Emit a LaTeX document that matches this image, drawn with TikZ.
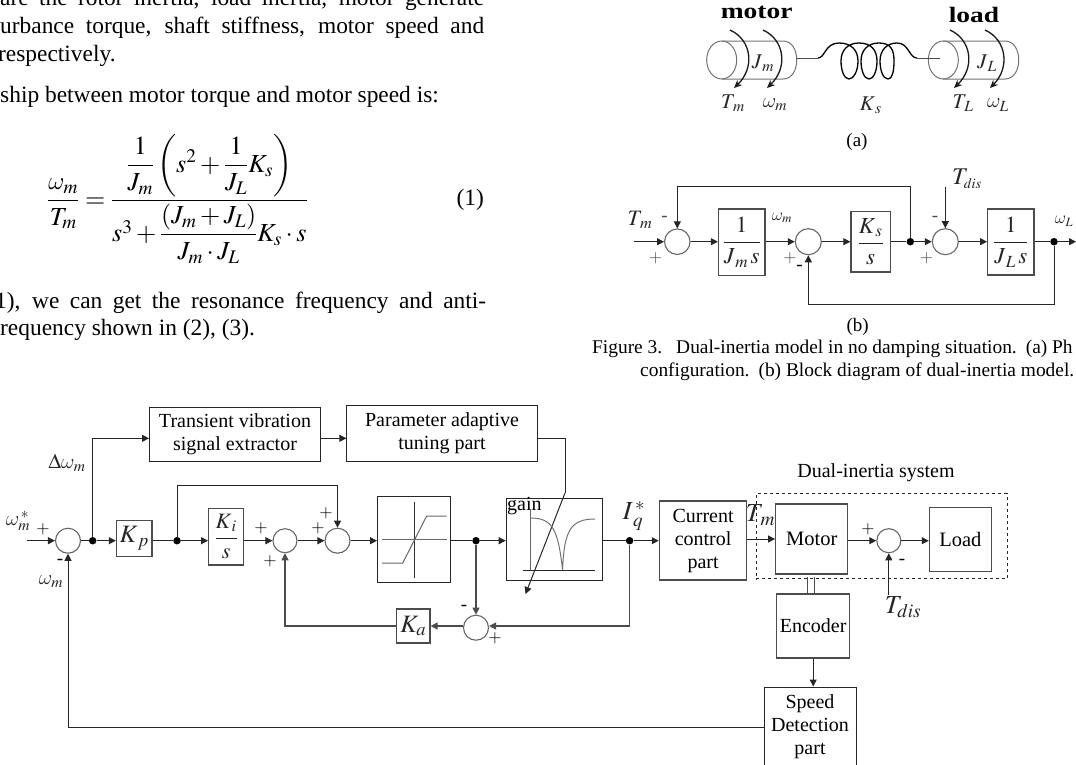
\documentclass[tikz,border=0pt]{standalone}
\usepackage{mathptmx}
\usepackage{amsmath}
\usepackage{graphicx}
\usepackage[no-math]{fontspec}
\setmainfont{Liberation Serif}
\usetikzlibrary{arrows.meta,calc}
\DeclareSymbolFont{lmlet}{OML}{lmm}{m}{it}
\DeclareMathSymbol{\ww}{\mathord}{lmlet}{"21}
\newcommand{\fsz}[1]{\fontsize{#1}{#1}\selectfont}
\tikzset{
  ln/.style={draw=black!85,line width=1pt},
  gln/.style={draw=black!70,line width=1.1pt},
  arr/.style={ln,-{Triangle[length=7pt,width=7pt]}},
  garr/.style={gln,-{Triangle[length=7pt,width=7pt]}},
  bx/.style={draw=black!85,line width=1pt,inner sep=0pt,align=center,font=\fsz{20}},
  gbx/.style={draw=black!70,line width=1.2pt,inner sep=0pt,align=center,font=\fsz{23},text=black!85},
  tbx/.style={gbx,font=\fsz{20},text=black},
  sumn/.style={circle,draw=black!60,line width=1.1pt,inner sep=0pt,minimum size=25pt},
  dotn/.style={circle,fill=black,inner sep=0pt,minimum size=7.5pt},
  lab/.style={inner sep=0pt,font=\fsz{21},text=black!85},
  sml/.style={inner sep=0pt,font=\fsz{17},text=black!70},
  txt/.style={inner sep=0pt,anchor=base west,font=\fsz{23.4}},
  captxt/.style={inner sep=0pt,anchor=base west,font=\fsz{19.4}},
  cyl/.style={draw=black!55,line width=1pt},
  coil/.style={draw=black,line width=1.3pt},
  curv/.style={draw=black!90,line width=1.3pt,-{Stealth[length=8pt,width=7pt]}},
}
\begin{document}
\begin{tikzpicture}[x=1pt,y=-1pt]
\useasboundingbox (0,0) rectangle (1076,764);
\clip (0,0) rectangle (1076,764);
% ---------- left column text
\node[txt] (t0) at (0,5) {\makebox[484pt][s]{are the rotor inertia, load inertia, motor generate}};
\node[txt] (t1) at (0,33) {\makebox[484pt][s]{urbance torque, shaft stiffness, motor speed and}};
\node[txt] (t2) at (-2,61) {respectively.};
\node[txt] (t3) at (0,102) {ship between motor torque and motor speed is:};
\node[inner sep=0pt,font=\fsz{26}] (eq) at (177.5,199) {$\dfrac{\ww_m}{T_m}=\dfrac{\dfrac{1}{J_m}\left(s^2+\dfrac{1}{J_L}K_s\right)}{s^3+\dfrac{\left(J_m+J_L\right)}{J_m\cdot J_L}K_s\cdot s}$};
\node[txt,anchor=east] (eqn) at (484,200) {(1)};
\node[txt] (t4) at (-5,308) {\makebox[491pt][s]{1), we can get the resonance frequency and anti-}};
\node[txt] (t5) at (0,335) {requency shown in (2), (3).};
% ---------- figure (a)
\draw[cyl] (722,41) -- (783,41) .. controls (792,41) and (796.7,50) .. (796.7,60) .. controls (796.7,70) and (792,79) .. (783,79) -- (722,79);
\draw[cyl] (721.7,60) ellipse [x radius=15,y radius=19];
\draw[cyl] (943,41) -- (1005,41) .. controls (1014,41) and (1018.7,50) .. (1018.7,60) .. controls (1018.7,70) and (1014,79) .. (1005,79) -- (943,79);
\draw[cyl] (943.3,60) ellipse [x radius=15,y radius=19];
\draw[line width=1pt,black!70] (796,58) -- (818,58);
\draw[line width=1pt,black!70] (917,58) -- (940,58);
\draw[coil] (818,58) .. controls (825,58) and (825,43) .. (839,43)
  .. controls (851,43) and (858,50) .. (858,61) .. controls (858,72) and (853,79) .. (849,79)
  .. controls (844,79) and (841,70) .. (841,61) .. controls (841,50) and (848,43) .. (859,43)
  .. controls (871,43) and (877,50) .. (877,61) .. controls (877,72) and (873,79) .. (869,79)
  .. controls (864,79) and (861,70) .. (861,61) .. controls (861,50) and (868,43) .. (879,43)
  .. controls (891,43) and (894,50) .. (894,61) .. controls (894,72) and (892,79) .. (888,79)
  .. controls (883,79) and (880,70) .. (880,61) .. controls (880,50) and (887,43) .. (897,43)
  .. controls (909,43) and (909,58) .. (917,58);
\draw[curv] (730,30) .. controls (752,40) and (755,68) .. (734,88);
\draw[curv] (763,30) .. controls (785,40) and (788,68) .. (767,88);
\draw[curv] (950,30) .. controls (972,40) and (975,68) .. (954,88);
\draw[curv] (985,30) .. controls (1007,40) and (1010,68) .. (990,88);
\node[inner sep=0pt,font=\bfseries\fsz{22}] (mo) at (756.7,12) {\scalebox{1.25}[1]{motor}};
\node[inner sep=0pt,font=\bfseries\fsz{22}] (lo) at (974,15) {\scalebox{1.25}[1]{load}};
\node[lab] (jm) at (763,63) {$J_{\,m}$};
\node[lab] (jl) at (987,63) {$J_{\,L}$};
\node[lab] (tm) at (733,103) {$T_{\,m}$};
\node[lab] (wm) at (775,105) {$\ww_{m}$};
\node[lab] (ks) at (870.7,105) {$K_{\,s}$};
\node[lab] (tl) at (963,103) {$T_{\,L}$};
\node[lab] (wl) at (998,105) {$\ww_{L}$};
\node[inner sep=0pt,font=\fsz{19}] (capa) at (857,142) {(a)};
% ---------- figure (b)
\node[sumn,minimum size=25.5pt] (bs1) at (677.3,241.7) {};
\node[gbx,minimum width=46.5pt,minimum height=66.3pt] (bj1) at (741.7,242.2) {$\dfrac{1}{J_{\,m}\,s}$};
\node[sumn,minimum size=26pt] (bs2) at (808.3,241.7) {};
\node[gbx,minimum width=39.5pt,minimum height=60.3pt] (bk) at (870.7,241.8) {$\dfrac{K_{\,s}}{s}$};
\node[dotn] (bd1) at (910.3,241.7) {};
\node[sumn,minimum size=26pt] (bs3) at (945.3,241.7) {};
\node[gbx,minimum width=46.3pt,minimum height=66pt] (bj2) at (1010.8,242) {$\dfrac{1}{J_{\,L}\,s}$};
\node[dotn] (bd2) at (1054,241.7) {};
\coordinate (bin) at (634,241.7);
\coordinate (bout) at (1076,241.7);
\coordinate (bdis) at (945.3,186.7);
\coordinate (bc1) at (677.3,186.7);
\coordinate (bc2) at (1054,304.3);
\draw[arr] (bin) -- (bs1);
\draw[arr] (bs1) -- (bj1.west |- bs1);
\draw[arr] (bj1.east |- bs2) -- (bs2);
\draw[arr] (bs2) -- (bk.west |- bs2);
\draw[ln] (bk.east |- bd1) -- (bd1);
\draw[arr] (bd1) -- (bs3);
\draw[arr] (bs3) -- (bj2.west |- bs3);
\draw[ln] (bj2.east |- bd2) -- (bd2);
\draw[arr] (bd2) -- (bout);
\draw[arr] (bd1) |- (bc1) -- (bs1);
\draw[arr] (bdis) -- (bs3);
\draw[arr] (bd2) -- (bc2) -| (bs2);
\node[lab,font=\fsz{22}] (blt) at (640,220) {$T_{\,m}$};
\node[lab,font=\fsz{17}] (blw) at (782,218) {$\ww_{m}$};
\node[lab,font=\fsz{24}] (bld) at (967,179) {$T_{\scriptscriptstyle dis}$};
\node[lab,font=\fsz{17}] (blwl) at (1064,221) {$\ww_{L}$};
\node[sml] (p1) at (655.5,258) {$+$};
\node[sml,font=\fsz{19}] (m1) at (664.5,219) {-};
\node[sml] (p2) at (790,258) {$+$};
\node[sml,text=black,font=\fsz{19}] (m2) at (799.5,268) {-};
\node[sml] (p3) at (926.5,258) {$+$};
\node[sml,font=\fsz{19}] (m3) at (935,219) {-};
\node[inner sep=0pt,font=\fsz{19}] (capb) at (857.7,327) {(b)};
\node[captxt] (c1) at (592,353) {Figure 3.\hspace{14pt}Dual-inertia model in no damping situation.\hspace{9pt}(a) Ph};
\node[captxt] (c2) at (640,376) {configuration.\hspace{9pt}(b) Block diagram of dual-inertia model.};
% ---------- main block diagram
\node[bx,minimum width=171pt,minimum height=54.2pt] (trans) at (235,434.6) {Transient vibration\\[3pt]signal extractor};
\node[bx,minimum width=190.2pt,minimum height=56.2pt] (param) at (442,433.6) {Parameter adaptive\\[3pt]tuning part};
\node[sumn] (s1) at (68,540.7) {};
\node[dotn] (d1) at (92.7,540.7) {};
\node[gbx,minimum width=35.5pt,minimum height=35.6pt,font=\fsz{25}] (kp) at (134.2,538.5) {$K_{\,p}$};
\node[dotn] (d2) at (177,540.7) {};
\node[gbx,font=\fsz{22},minimum width=35pt,minimum height=56.7pt] (ki) at (226.2,536.6) {$\dfrac{K_{\,i}}{s}$};
\node[sumn,minimum size=24pt] (s2) at (285,540.7) {};
\node[sumn] (s3) at (337.5,540.7) {};
\node[bx,minimum width=73pt,minimum height=86pt] (sat) at (414,539.7) {};
\node[dotn] (d3) at (476,540.7) {};
\node[sumn] (s4) at (476,627.7) {};
\node[gbx,minimum width=33.3pt,minimum height=34pt,font=\fsz{25}] (ka) at (413.3,626) {$K_{a}$};
\node[bx,minimum width=95.8pt,minimum height=82.7pt] (gainb) at (554.1,539.6) {};
\node[dotn] (d4) at (629.6,540.7) {};
\node[tbx,minimum width=87.5pt,minimum height=79pt] (curb) at (703.1,540.5) {Current\\[3pt]control\\[3pt]part};
\node[tbx,font=\fsz{20.5},minimum width=72pt,minimum height=70pt] (motor) at (811.7,539) {Motor};
\node[sumn,minimum size=24pt] (s5) at (888.8,540.7) {};
\node[tbx,font=\fsz{20.5},minimum width=61.8pt,minimum height=63.6pt] (load) at (960.3,539.5) {Load};
\node[tbx,minimum width=73pt,minimum height=64pt] (enc) at (813.2,626) {Encoder};
\node[bx,minimum width=92pt,minimum height=79pt] (speed) at (810,726.5) {Speed\\[3pt]Detection\\[3pt]part};
\node[draw=black!85,dashed,line width=1pt,inner sep=0pt,minimum width=250.6pt,minimum height=85.5pt] (dash) at (881.7,536.2) {};
% free ends
\coordinate (in) at (27,540.7);
\coordinate (c1a) at (92.7,438.3);
\coordinate (c2a) at (177,485.3);
\coordinate (c2b) at (337.5,485.3);
\coordinate (cka) at (285,626);
\coordinate (cq) at (629.6,626);
\coordinate (pb) at (565,438.3);
\coordinate (pc) at (565,493);
\coordinate (pd) at (525.5,594);
\coordinate (tdis) at (888.8,595);
\coordinate (sl) at (0,727.8);
\coordinate (m1a) at (807.7,577);
\coordinate (m1b) at (807.7,594);
\coordinate (m2a) at (814.5,577);
\coordinate (m2b) at (814.5,594);
% connectors
\draw[arr] (in) -- (s1);
\draw[ln] (s1) -- (d1);
\draw[arr] (d1) -- (kp.west |- d1);
\draw[ln] (kp.east |- d2) -- (d2);
\draw[arr] (d2) -- (ki.west |- d2);
\draw[arr] (ki.east |- s2) -- (s2);
\draw[arr] (s2) -- (s3);
\draw[arr] (s3) -- (sat.west |- s3);
\draw[ln] (sat.east |- d3) -- (d3);
\draw[arr] (d3) -- (gainb.west |- d3);
\draw[ln] (gainb.east |- d4) -- (d4);
\draw[arr] (d4) -- (curb.west |- d4);
\draw[arr] (curb.east |- motor) -- (motor.west);
\draw[arr] (motor.east |- s5) -- (s5);
\draw[arr] (s5) -- (load.west |- s5);
\draw[arr] (d1) -- (c1a) -- (trans.west |- c1a);
\draw[arr] (trans.east |- c1a) -- (param.west |- c1a);
\draw[ln] (param.east |- pb) -- (pb) -- (pc);
\draw[arr] (pc) -- (pd);
\draw[arr] (d2) -- (c2a) -- (c2b) -- (s3);
\draw[garr] (d3) -- (s4);
\draw[garr] (s4.west |- ka) -- (ka.east);
\draw[garr] (ka.west) -- (cka) -- (s2);
\draw[garr] (d4) -- (cq) -- (s4.east |- cq);
\draw[arr] (tdis) -- (s5);
\draw[gln] (m1a) -- (m1b);
\draw[gln] (m2a) -- (m2b);
\draw[arr] (enc.south) -- (enc.south |- speed.north);
\draw[arr] (speed.west |- sl) -| (s1);
% saturation symbol
\draw[ln,black!80] (414.3,502) -- (414.3,578);
\draw[ln,black!60] (382,539.7) -- (446.7,539.7);
\draw[ln,black!60] (382,563) -- (402.7,563) -- (426.7,516) -- (446.7,516);
% gain symbol
\draw[ln,black!60] (530.5,510) -- (530.5,570.3);
\draw[ln,black!85] (522.5,570.3) -- (595,570.3);
\draw[ln,black!55] (530.5,518) .. controls (553,518) and (558,530) .. (562.6,570) .. controls (564,530) and (571,519) .. (595,519);
\node[inner sep=0pt,anchor=base west,font=\fsz{20}] (gl) at (507,510.7) {gain};
% labels
\node[lab] (l1) at (67,463) {$\Delta\ww_{m}$};
\node[lab] (l2) at (18,521) {$\ww_{m}^{\,*}$};
\node[lab] (l3) at (51,582) {$\ww_{m}$};
\node[sml,text=black] (a1) at (43,529) {$+$};
\node[sml,text=black,font=\fsz{19}] (a2) at (60,562) {-};
\node[sml,text=black] (a3) at (261,528) {$+$};
\node[sml,text=black] (a4) at (270,561) {$+$};
\node[sml,text=black] (a5) at (326,513) {$+$};
\node[sml,text=black] (a6) at (318,528) {$+$};
\node[sml,text=black,font=\fsz{19}] (a7) at (464,608) {-};
\node[sml,text=black] (a8) at (495,638) {$+$};
\node[sml,text=black] (a9) at (868,529) {$+$};
\node[sml,text=black,font=\fsz{19}] (a10) at (902,562) {-};
\node[lab,font=\fsz{26}] (iq) at (634,516) {$I_{\,q}^{\,*}$};
\node[lab,font=\fsz{26}] (lt) at (760.4,515) {$T_{\,m}$};
\node[lab,font=\fsz{26}] (ld) at (903,607) {$T_{dis}$};
\node[inner sep=0pt,anchor=base,font=\fsz{20}] (dl) at (876,477) {Dual-inertia system};
\end{tikzpicture}
\end{document}
